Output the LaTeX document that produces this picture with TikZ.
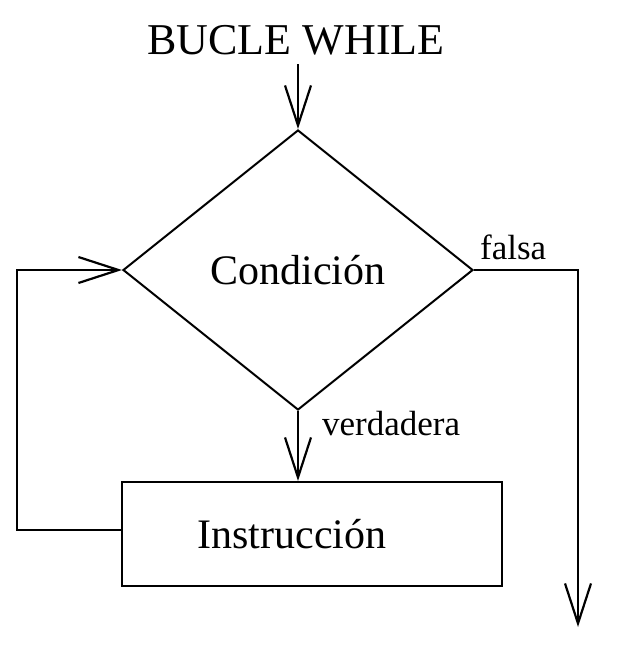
\documentclass[tikz,border=0pt]{standalone}
\usepackage{fontspec}
\setmainfont{Liberation Serif}
\usetikzlibrary{shapes.geometric,arrows.meta}
\begin{document}
\begin{tikzpicture}[x=1pt,y=-1pt,
  line/.style={line width=2pt},
  arr/.style={line, -{Straight Barb[length=40pt,width=26pt,line width=2.2pt]}},
  lbl/.style={font=\fontsize{35}{38}\selectfont, inner sep=0pt},
  main/.style={font=\fontsize{42}{46}\selectfont}]
\useasboundingbox (0,0) rectangle (618,656);
\node[font=\fontsize{44}{48}\selectfont] (title) at (296,40) {BUCLE WHILE};
\node[diamond, draw, line, inner sep=0pt, minimum width=350pt, minimum height=280pt, main] (cond) at (298,270) {Condición};
\node[rectangle, draw, line, minimum width=380pt, minimum height=104pt, inner sep=0pt] (instr) at (312,534) {};
\node[main, inner sep=0pt] (instrtext) at (292,534) {Instrucción};
\coordinate (start) at (298,64);
\coordinate (lc1) at (17,530);
\coordinate (lc2) at (17,270);
\coordinate (rc1) at (578,270);
\coordinate (endpt) at (578,627);
\draw[arr] (start) -- (cond.north);
\draw[arr] (cond.south) -- (cond.south |- instr.north);
\draw[arr] (instr.west |- lc1) -- (lc1) -- (lc2) -- (cond.west);
\draw[arr] (cond.east) -- (rc1) -- (endpt);
\node[lbl, anchor=south west] (fals) at (480,260) {falsa};
\node[lbl, anchor=south west] (verd) at (322,436) {verdadera};
\end{tikzpicture}
\end{document}
